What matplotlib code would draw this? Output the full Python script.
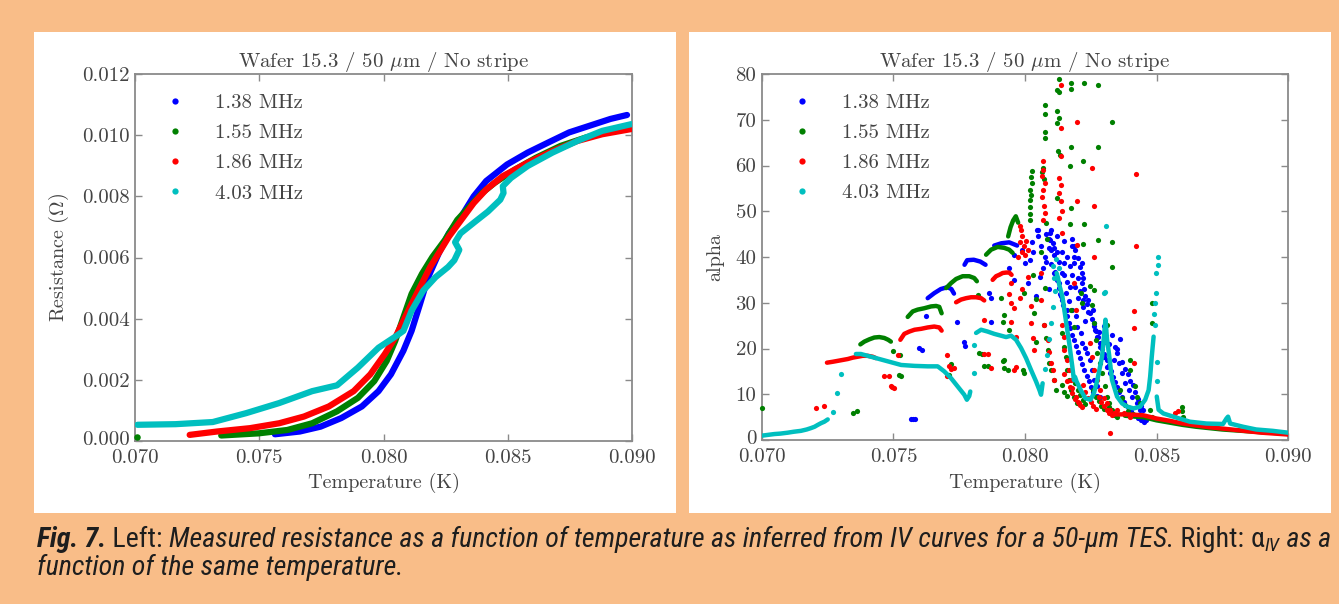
import matplotlib
matplotlib.use("Agg")
import matplotlib.pyplot as plt
from matplotlib.patches import Rectangle
from matplotlib.lines import Line2D
from matplotlib.transforms import IdentityTransform, ScaledTranslation
from matplotlib import font_manager as fm

# ---------------- data ----------------
labels = ["1.38 MHz", "1.55 MHz", "1.86 MHz", "4.03 MHz"]
colors = ["#0000ff", "#008000", "#ff0000", "#00bfbf"]
title = r"Wafer 15.3 / 50 $\mu$m / No stripe"

x_ticks = [0.070, 0.075, 0.080, 0.085, 0.090]
x_ticklabels = ["0.070", "0.075", "0.080", "0.085", "0.090"]
r_ticks = [0.000, 0.002, 0.004, 0.006, 0.008, 0.010, 0.012]
r_ticklabels = ["0.000", "0.002", "0.004", "0.006", "0.008", "0.010", "0.012"]
a_ticks = [0, 10, 20, 30, 40, 50, 60, 70, 80]
a_ticklabels = ["0", "10", "20", "30", "40", "50", "60", "70", "80"]

# Left panel: resistance (Ohm) vs temperature (K)
res_blue = [(.07563, .00022), (.07663, .00031), (.07747, .00047), (.0783, .00075), (.07913, .00113),
            (.0798, .00163), (.0803, .00218), (.0808, .00295), (.08113, .0036), (.08147, .00448),
            (.0818, .00536), (.08222, .00613), (.08263, .00679), (.08313, .00734), (.08363, .0080),
            (.08413, .0085), (.08497, .00904), (.0858, .00943), (.08663, .00976), (.08747, .01009),
            (.0883, .01031), (.08913, .01053), (.0898, .01066)]
res_green_iso = [(.0701, .00014)]
res_green = [(.07347, .00018), (.07497, .00025), (.07613, .00036), (.07713, .00058), (.07813, .00097),
             (.07897, .00141), (.07963, .00196), (.08013, .00262), (.08047, .00327), (.0808, .00404),
             (.08113, .00481), (.08155, .00547), (.08197, .00602), (.08247, .00657), (.08297, .00723),
             (.08347, .00767), (.08397, .00811), (.08447, .00844), (.0853, .00888), (.08613, .00926),
             (.08713, .00965), (.08813, .00992), (.08913, .01014), (.08997, .01025)]
res_red = [(.0722, .0002), (.0733, .00031), (.07463, .00042), (.0758, .00058), (.0768, .0008),
           (.0778, .00113), (.0788, .00163), (.07947, .00218), (.08005, .00284), (.08047, .00338),
           (.0808, .00393), (.08113, .00448), (.08147, .00503), (.08188, .00569), (.0823, .00624),
           (.08263, .00668), (.08313, .00723), (.08363, .00778), (.08413, .00822), (.0848, .00866),
           (.0858, .0091), (.0868, .00948), (.0878, .00981), (.0888, .01003), (.08997, .0102)]
res_cyan = [(.0701, .00053), (.07163, .00055), (.07313, .00062), (.07447, .00091), (.0758, .00124),
            (.07713, .00163), (.07813, .00182), (.07897, .0024), (.0798, .00305), (.08047, .00341),
            (.0808, .0036), (.08113, .00426), (.0816, .00492), (.0821, .00536), (.0826, .00569),
            (.08285, .00591), (.08305, .00625), (.08288, .0065), (.0831, .00679), (.0837, .00718),
            (.0842, .0075), (.0847, .00789), (.08483, .00811), (.0848, .00833), (.08513, .0086),
            (.0858, .00899), (.0868, .00943), (.0878, .00981), (.0888, .01014), (.08997, .01036)]

# Right panel: alpha vs temperature (K); arcs = dense runs, dots = isolated points
blue_arcs = [
    [(.0763, 31.0), (.07655, 32.1), (.0768, 33.0), (.07705, 33.4), (.0772, 33.0), (.0773, 32.0)],
    [(.0777, 38.3), (.0778, 39.3), (.07805, 39.4), (.0783, 39.0), (.0785, 38.3)],
    [(.07883, 42.5), (.0791, 43.0), (.0794, 43.2), (.0797, 42.5)],
]
blue_dots = [(.07567, 4.6), (.07575, 4.6), (.07582, 4.5), (.07598, 20.1), (.07607, 19.7), (.07624, 27.0),
             (.07742, 25.9), (.07767, 21.5), (.07773, 20.5), (.07864, 32.1), (.0787, 31.0), (.0787, 25.9),
             (.0800, 38.7), (.08013, 34.3), (.0802, 39.4), (.08026, 43.2), (.08044, 46.0), (.0805, 44.5),
             (.08058, 35.7), (.08051, 46.0), (.08077, 40.1), (.08096, 45.2), (.08096, 43.8), (.08099, 46.0),
             (.08092, 42.0), (.08105, 43.0), (.08111, 36.5), (.0812, 35.4), (.0813, 34.3), (.08136, 31.4),
             (.08147, 38.7), (.08155, 32.1), (.08161, 28.4), (.08168, 30.3), (.08178, 42.3), (.0818, 28.4),
             (.08186, 42.3), (.08186, 40.1), (.08186, 38.7), (.08193, 27.0), (.08199, 24.8), (.08212, 23.3),
             (.08218, 38.7), (.08218, 36.5), (.08218, 34.3), (.08218, 21.2), (.08228, 20.1), (.08237, 19.0),
             (.08249, 27.7), (.08249, 17.5), (.08256, 15.3), (.08262, 25.5), (.08262, 13.1), (.08268, 24.0),
             (.08275, 22.6), (.08275, 11.7), (.08287, 20.4), (.08287, 9.5), (.083, 18.2), (.08306, 21.5),
             (.08312, 16.0), (.08325, 14.6), (.08344, 20.4), (.0835, 19.0), (.08356, 16.8), (.08369, 14.6),
             (.08382, 12.4), (.08394, 10.9), (.08407, 9.5), (.08426, 8.0), (.08438, 6.6), (.08451, 5.1),
             (.08451, 4.0), (.0846, 4.3), (.0803, 41.0), (.0807, 37.5), (.0809, 33.0), (.0804, 31.5),
             (.0811, 40.5), (.0815, 36.0), (.0817, 33.5), (.0820, 31.0), (.0822, 29.0), (.0824, 30.5),
             (.0823, 26.0), (.0826, 28.5), (.0828, 23.5), (.0830, 25.0), (.0832, 21.0), (.0834, 17.5),
             (.0836, 22.0), (.0838, 15.5), (.0840, 13.0), (.0842, 10.5), (.0844, 7.5), (.0818, 44.0),
             (.0806, 42.5), (.0808, 39.0), (.0799, 41.5), (.0796, 40.5), (.0794, 37.5), (.0796, 35.0),
             # dense streaks
             (.08115, 36.8), (.08122, 35.0), (.08128, 33.2), (.08134, 32.0), (.0814, 30.6), (.08146, 29.5),
             (.08152, 28.2), (.0816, 27.0), (.08166, 25.6), (.08172, 24.4), (.0818, 23.0), (.08187, 21.8),
             (.08195, 20.5), (.08202, 19.2), (.0821, 18.0), (.08218, 16.6), (.08226, 15.3), (.08234, 14.0),
             (.08242, 12.8), (.0825, 11.6), (.0826, 10.4), (.08272, 9.6),
             (.08255, 26.5), (.08262, 25.0), (.0827, 23.8), (.08278, 22.5), (.08286, 21.2), (.08294, 20.0),
             (.08302, 18.8), (.0831, 17.5), (.08318, 16.3), (.08326, 15.0), (.08334, 13.8), (.08342, 12.6),
             (.0835, 11.5), (.08358, 10.4), (.08368, 9.3), (.08378, 8.2), (.0839, 7.2), (.08402, 6.3),
             (.08415, 5.5), (.08428, 4.8), (.0844, 4.3),
             (.0819, 41.5), (.0820, 39.8), (.0821, 37.8), (.0822, 35.5), (.08225, 33.0), (.0823, 31.5),
             (.08235, 29.8), (.0824, 28.0), (.0808, 45.0), (.0809, 44.0), (.0810, 41.5), (.0810, 38.5),
             (.0811, 42.0), (.0812, 44.5), (.0812, 41.0), (.0813, 39.0), (.0814, 41.0), (.0815, 43.5),
             (.0816, 40.0), (.0814, 36.5), (.0816, 34.5), (.0817, 38.0), (.0818, 36.0), (.0819, 33.5),
             (.0820, 35.5), (.0821, 32.5), (.0822, 30.5), (.0833, 23.0), (.0835, 20.0), (.0837, 17.0),
             (.0839, 14.5), (.0841, 12.0), (.0843, 9.0), (.0845, 6.5)]

green_arcs = [
    [(.07374, 20.9), (.07389, 21.5), (.07408, 22.0), (.07427, 22.4), (.07446, 22.5), (.07465, 22.3), (.0748, 21.9), (.0749, 21.5)],
    [(.07554, 26.9), (.07573, 28.1), (.07592, 28.5), (.07617, 28.8), (.07643, 29.2), (.07662, 29.3), (.07674, 29.1), (.07683, 27.7)],
    [(.0770, 33.2), (.07719, 34.3), (.07738, 35.2), (.07763, 35.8), (.07788, 35.8), (.07807, 35.4), (.07817, 34.7)],
    [(.07852, 40.5), (.07871, 41.6), (.07896, 42.2), (.07921, 42.0), (.0794, 41.6), (.07953, 40.9)],
    [(.07936, 44.5), (.07945, 46.5), (.07955, 48.0), (.07965, 48.9), (.07974, 47.5)],
    [(.0838, 5.3), (.0842, 5.1), (.0845, 5.0), (.0850, 4.3), (.0855, 3.8), (.0860, 3.3), (.0865, 2.9),
     (.0870, 2.6), (.0875, 2.3), (.0880, 2.1), (.0885, 1.9), (.0890, 1.7), (.0895, 1.55), (.0900, 1.4)],
]
green_dots = [(.0700, 7.1), (.07345, 6.0), (.07361, 6.4), (.0750, 19.4), (.07525, 18.6), (.07522, 14.2),
              (.07528, 13.9), (.07712, 14.2), (.07719, 16.6), (.0782, 31.8), (.07826, 19.0), (.07836, 18.8),
              (.07843, 16.1), (.07861, 16.2), (.07921, 27.4), (.0794, 24.1), (.07915, 17.2), (.07934, 15.3),
              (.07909, 31.0), (.07916, 25.9), (.07922, 17.5), (.07922, 15.7), (.07991, 15.3), (.07997, 14.6),
              (.07997, 32.1), (.08035, 27.7), (.08042, 21.5), (.08073, 25.2), (.0808, 22.2), (.08086, 19.7),
              (.08092, 16.8), (.08098, 15.3), (.08111, 13.1), (.08117, 10.9), (.08142, 23.3), (.08149, 20.4),
              (.08155, 18.2), (.08161, 15.3), (.08168, 13.1), (.08174, 10.9), (.08186, 9.5), (.08199, 8.0),
              (.08174, 28.4), (.08186, 24.8), (.08212, 32.1), (.08218, 29.9), (.08249, 33.6), (.08256, 29.5),
              (.08262, 25.5), (.08269, 21.9), (.08275, 19.0), (.08287, 16.8), (.08293, 14.6), (.08306, 11.7),
              (.08312, 9.5), (.08319, 8.0), (.08331, 6.6), (.0835, 5.1), (.08312, 25.2), (.08262, 32.8),
              (.084, 17.5), (.084, 15.3), (.08419, 11.7), (.08426, 9.5), (.08438, 8.0), (.08476, 6.6),
              (.08482, 5.1), (.08482, 29.9), (.08482, 25.5), (.08596, 7.3), (.08598, 6.3), (.08602, 5.1),
              (.08128, 78.9), (.08122, 76.6), (.08128, 76.0), (.08176, 78.0), (.08176, 76.7), (.08224, 78.0),
              (.08276, 77.7), (.08077, 73.3), (.08077, 71.3), (.08122, 72.0), (.08128, 70.4), (.08122, 69.3),
              (.08329, 69.4), (.08077, 67.3), (.08077, 66.0), (.08124, 63.1), (.08132, 62.4), (.08176, 64.0),
              (.08276, 64.0), (.0817, 60.0), (.08222, 60.9), (.0807, 59.4), (.08066, 58.5), (.08072, 57.0),
              (.08026, 58.7), (.08024, 57.4), (.08026, 56.2), (.0802, 54.7), (.08022, 53.5), (.0802, 52.5),
              (.0802, 51.0), (.08018, 49.5), (.0802, 48.0), (.08176, 50.7), (.0817, 47.2), (.08224, 47.2),
              (.08276, 43.8), (.08329, 43.2), (.08222, 42.9), (.08329, 37.9), (.0808, 47.4), (.08083, 44.0),
              (.0806, 41.0), (.0803, 36.0), (.0804, 30.9), (.08075, 33.2), (.0812, 52.9),
              (.0814, 12.0), (.0815, 10.5), (.0816, 9.6), (.0819, 12.5), (.0820, 11.0), (.0821, 9.8),
              (.0822, 8.7), (.0823, 7.8), (.0826, 11.0), (.0827, 9.5), (.0828, 8.5), (.0829, 7.5),
              (.0830, 6.8), (.0832, 7.2), (.0833, 6.0), (.0834, 5.4), (.0836, 11.0), (.0837, 9.2),
              (.0838, 7.6), (.0839, 6.4), (.0841, 5.6)]

red_arcs = [
    [(.07247, 16.9), (.07269, 17.1), (.07288, 17.3), (.07307, 17.5), (.07326, 17.7), (.07345, 18.0),
     (.07364, 18.2), (.07383, 18.4), (.07402, 18.4), (.07421, 18.2), (.07433, 17.9)],
    [(.07526, 21.9), (.07541, 23.2), (.0756, 23.7), (.0758, 24.1), (.07605, 24.3), (.0763, 24.6),
     (.07655, 24.8), (.07674, 24.6), (.07683, 23.9)],
    [(.07738, 30.1), (.07757, 30.7), (.07776, 31.0), (.07795, 31.2), (.07814, 31.2), (.07833, 31.0), (.07845, 30.5)],
    [(.07877, 35.0), (.0789, 35.8), (.07902, 36.1), (.07915, 36.5), (.07928, 36.6), (.0794, 36.6), (.07949, 36.1)],
    [(.0834, 5.6), (.0838, 5.6), (.0842, 5.5), (.0845, 5.4), (.0850, 4.7), (.0855, 4.2), (.0860, 3.6),
     (.0865, 3.2), (.0870, 2.8), (.0875, 2.5), (.0880, 2.2), (.0885, 1.9), (.0890, 1.6), (.0895, 1.4),
     (.0900, 1.2)],
]
red_dots = [(.07205, 6.9), (.07234, 7.5), (.07465, 13.9), (.07484, 13.9), (.0749, 11.7), (.07503, 11.3),
            (.07496, 11.5), (.07516, 18.6), (.07703, 18.6), (.07712, 16.1), (.07703, 13.9), (.07731, 15.7),
            (.0772, 15.5), (.07845, 26.3), (.07845, 18.8), (.0786, 18.8), (.0787, 15.7),
            (.07981, 46.7), (.07985, 45.9), (.0799, 44.5), (.0798, 43.2), (.07995, 42.3), (.0799, 41.2),
            (.08013, 41.6), (.07975, 40.1), (.08005, 43.5), (.0800, 40.5),
            (.07947, 34.3), (.0801, 35.7), (.0806, 36.5), (.07947, 29.9), (.0796, 28.8), (.08023, 29.2),
            (.0806, 30.6), (.08073, 25.2), (.07947, 25.9), (.07966, 22.6), (.08023, 25.5), (.08029, 22.2),
            (.08035, 19.7), (.07966, 16.0), (.0796, 15.3), (.08086, 21.9), (.08092, 19.3), (.08098, 16.8),
            (.08105, 15.3), (.08111, 13.1), (.08142, 25.2), (.08149, 22.6), (.08149, 19.7), (.08161, 17.5),
            (.08168, 15.3), (.08174, 13.1), (.0818, 11.3), (.08193, 9.5), (.08205, 8.0), (.08218, 7.3),
            (.08186, 34.3), (.08193, 28.4), (.08249, 21.2), (.08256, 18.2), (.08262, 15.3), (.08275, 13.1),
            (.08287, 10.9), (.083, 9.1), (.08312, 8.0), (.08325, 6.6), (.08338, 5.8), (.08306, 24.1),
            (.08325, 1.5), (.0835, 6.6), (.08375, 5.8), (.08401, 5.1), (.08413, 16.8), (.08413, 28.1),
            (.08413, 24.4), (.08137, 77.7), (.08135, 68.2), (.08199, 69.4), (.08137, 62.0), (.0807, 60.9),
            (.0807, 59.1), (.08064, 57.6), (.08077, 56.2), (.0807, 54.7), (.08064, 53.2), (.08074, 51.1),
            (.08077, 49.6), (.0807, 48.1), (.08128, 57.3), (.08135, 55.8), (.08128, 54.0), (.08135, 52.2),
            (.08256, 59.4), (.08423, 58.2), (.08196, 52.2), (.08263, 51.1), (.08141, 45.2), (.08199, 42.7),
            (.08423, 42.5), (.08263, 40.1), (.0814, 50.0), (.0813, 48.5), (.0799, 33.0), (.0798, 31.0),
            (.0794, 32.0), (.0858, 6.4), (.0857, 5.8),
            (.0815, 14.5), (.0816, 12.8), (.0817, 11.5), (.0818, 10.2), (.0819, 9.0), (.0820, 8.2),
            (.0821, 7.6), (.0822, 12.0), (.0823, 10.5), (.0824, 9.2), (.0825, 8.3), (.0826, 7.4),
            (.0827, 6.8), (.0828, 9.5), (.0829, 8.4), (.0830, 7.4), (.0831, 6.5), (.0832, 5.9),
            (.0833, 5.4)]

cyan_lines = [
    [(.0700, 0.95), (.0702, 1.1), (.07047, 1.3), (.0707, 1.4), (.07098, 1.6), (.0712, 1.8), (.07148, 2.0),
     (.0717, 2.3), (.07186, 2.6), (.072, 2.9), (.07212, 3.3), (.07225, 3.7), (.07237, 4.0), (.0725, 4.5)],
    [(.07357, 18.8), (.07376, 18.8), (.07427, 18.0), (.07478, 17.2), (.07529, 16.4), (.0758, 16.2),
     (.0763, 16.1), (.07668, 16.1), (.07693, 15.0), (.07719, 13.5), (.07744, 11.7), (.07769, 9.9),
     (.07779, 8.8), (.07788, 9.6), (.07792, 10.6)],
    [(.07814, 23.4), (.07833, 24.1), (.07858, 23.7), (.07883, 23.2), (.07909, 22.8), (.07928, 22.5),
     (.07947, 22.8), (.07966, 21.9), (.07985, 20.1), (.08004, 17.9), (.08023, 15.3), (.08042, 12.8),
     (.08055, 10.9), (.08061, 9.9), (.08067, 12.4)],
    [(.0812, 36.5), (.08125, 35.5), (.0813, 34.0), (.08142, 31.4), (.08155, 26.3),
     (.08168, 21.2), (.0818, 16.0), (.08186, 13.1), (.0819, 13.8), (.08196, 12.8), (.08212, 10.9),
     (.0823, 9.1), (.08249, 8.8), (.08262, 10.2), (.08275, 13.1), (.08293, 18.2), (.083, 22.6),
     (.08306, 26.3), (.08312, 22.0), (.08319, 19.0), (.08331, 13.1), (.0835, 9.5), (.08369, 8.0),
     (.08388, 7.3), (.08413, 6.9), (.08438, 7.3), (.08457, 8.8), (.0847, 10.9), (.08476, 13.9),
     (.08482, 18.2), (.08489, 22.6)],
    [(.08501, 9.5), (.08508, 6.6), (.08526, 5.8), (.08564, 5.1), (.08627, 4.0), (.0869, 3.6), (.08753, 3.5),
     (.08766, 4.7), (.08772, 5.1), (.0878, 3.6), (.08829, 2.9), (.08879, 2.3), (.08942, 2.0), (.0900, 1.6)],
]
cyan_dots = [(.07269, 6.2), (.07285, 10.2), (.073, 14.5), (.07805, 14.6), (.07807, 20.8), (.08308, 46.7),
             (.08506, 40.1), (.08506, 38.3), (.083, 32.1), (.08304, 32.4), (.08495, 25.2), (.0811, 35.5),
             (.08105, 38.0), (.0813, 37.5), (.08075, 15.5), (.08082, 18.5), (.0809, 22.0), (.08098, 25.5),
             (.08106, 29.0), (.08114, 32.5), (.08118, 39.5), (.08492, 27.5), (.08495, 30.0), (.08498, 32.1),
             (.085, 17.0), (.085, 13.0), (.08497, 36.5)]

caption_line1 = [("Fig. 7.", "italic", "bold"), (" Left: ", "normal", "normal"),
                 ("Measured resistance as a function of temperature as inferred from IV curves for a 50-\u00b5m TES.", "italic", "normal"),
                 (" Right: ", "normal", "normal"), ("\u03b1", "normal", "normal"), ("IV", "italic", "normal"),
                 (" as a", "italic", "normal")]
caption_line2 = "function of the same temperature."

# ---------------- style ----------------
BG = "#f9bd88"
TXT = "#444444"
SPINE = "#8a8a8a"
plt.rcParams["mathtext.fontset"] = "cm"
plt.rcParams["font.family"] = "cmr10"
plt.rcParams["axes.formatter.use_mathtext"] = True

# pick a condensed sans for the caption if one is installed
CAP_STRETCH = "normal"
CAPF = ["Liberation Sans", "DejaVu Sans"]
for fam, stretch in [("Liberation Sans Narrow", "normal"), ("Roboto Condensed", "normal"),
                     ("Open Sans Condensed", "normal"), ("DejaVu Sans", "condensed")]:
    try:
        p = fm.findfont(fm.FontProperties(family=fam, stretch=stretch), fallback_to_default=False)
        if stretch == "condensed" and "Condensed" not in p:
            continue
        CAPF = [fam, "DejaVu Sans"]
        CAP_STRETCH = stretch
        break
    except Exception:
        pass

W, H = 1339, 604
fig = plt.figure(figsize=(W / 100, H / 100), dpi=100, facecolor=BG)

def fx(px):
    return px / W

def fy(py):
    return 1 - py / H

# white panels
for (x0, x1) in [(34, 676), (689, 1331)]:
    fig.patches.append(Rectangle((fx(x0), fy(513)), fx(x1 - x0), (513 - 32) / H,
                                 transform=fig.transFigure, facecolor="white", edgecolor="none", zorder=-5))

axL = fig.add_axes([fx(135), fy(441), fx(632 - 135), (441 - 74) / H])
axR = fig.add_axes([fx(762), fy(440), fx(1288 - 762), (440 - 74) / H])

def style_axes(ax, yticks, yticklabels):
    ax.set_xlim(0.070, 0.090)
    ax.set_xticks(x_ticks)
    ax.set_xticklabels(x_ticklabels)
    ax.set_yticks(yticks)
    ax.set_yticklabels(yticklabels)
    ax.set_ylim(yticks[0], yticks[-1])
    ax.set_facecolor("white")
    for s in ax.spines.values():
        s.set_color(SPINE)
        s.set_linewidth(1.3)
    ax.tick_params(direction="in", length=5, width=1, color=SPINE, top=True, right=True,
                   labelsize=15, labelcolor=TXT)
    ax.tick_params(axis="x", pad=6)
    ax.tick_params(axis="y", pad=4)
    ax.set_title(title, fontsize=15, color=TXT, pad=5)
    ax.set_xlabel("Temperature (K)", fontsize=14.5, color=TXT)

style_axes(axL, r_ticks, r_ticklabels)
style_axes(axR, a_ticks, a_ticklabels)
axL.set_ylabel(r"Resistance ($\Omega$)", fontsize=14.5, color=TXT)
axR.set_ylabel("alpha", fontsize=14.5, color=TXT)
axL.xaxis.set_label_coords(0.5, -0.087)
axR.xaxis.set_label_coords(0.5, -0.09)
axL.yaxis.set_label_coords(-0.129, 0.5)
axR.yaxis.set_label_coords(-0.071, 0.5)

# nudge the lowest y tick labels up a little so they clear the x tick labels
for ax in (axL, axR):
    lab = ax.get_yticklabels()[0]
    lab.set_transform(lab.get_transform() + ScaledTranslation(0, 3 / 100, fig.dpi_scale_trans))

# left panel curves
LW = 4.5
for pts, c in [(res_blue, colors[0]), (res_green, colors[1]), (res_red, colors[2]), (res_cyan, colors[3])]:
    axL.plot([p[0] for p in pts], [p[1] for p in pts], color=c, lw=LW, solid_capstyle="round",
             solid_joinstyle="round", zorder=3)
axL.scatter([p[0] for p in res_green_iso], [p[1] for p in res_green_iso], s=22, color=colors[1],
            linewidths=0, zorder=3, clip_on=False)

# right panel
DOT_S = 14
ARC_LW = 3.2
series = [(blue_arcs, blue_dots, colors[0]), (green_arcs, green_dots, colors[1]),
          (red_arcs, red_dots, colors[2]), (cyan_lines, cyan_dots, colors[3])]
for arcs, dots, c in series:
    for arc in arcs:
        axR.plot([p[0] for p in arc], [p[1] for p in arc], color=c, lw=ARC_LW,
                 solid_capstyle="round", solid_joinstyle="round", zorder=3)
    axR.scatter([p[0] for p in dots], [p[1] for p in dots], s=DOT_S, color=c, linewidths=0,
                zorder=3, clip_on=False)

# legends
handles = [Line2D([], [], ls="", marker="o", ms=4.5, mec="none", mfc=c) for c in colors]
for ax, xa in [(axL, 0.0596), (axR, 0.0563)]:
    ax.legend(handles, labels, loc="upper left", bbox_to_anchor=(xa, 0.946), frameon=False,
              fontsize=15, borderpad=0, borderaxespad=0, handlelength=1.0, handletextpad=1.4,
              labelspacing=0.55, labelcolor=TXT)

# caption
CAPC = "#1e1e1e"
renderer = fig.canvas.get_renderer()

def measure(pieces, size):
    total = 0
    objs = []
    for s, st, wt in pieces:
        sc = 0.68 if s == "IV" else 1.0
        t = fig.text(0, 0, s, fontsize=size * sc, style=st, weight=wt, family=CAPF,
                     stretch=CAP_STRETCH, transform=IdentityTransform())
        objs.append(t)
        total += t.get_window_extent(renderer).width
    for t in objs:
        t.remove()
    return total

target = 1330 - 37
base = 18.0
wid = measure(caption_line1, base)
size = min(base * target / wid, 21.0)

x = 37
y1 = H - 547
for s, st, wt in caption_line1:
    sc, dy = (0.68, -4) if s == "IV" else (1.0, 0)
    t = fig.text(x, y1 + dy, s, fontsize=size * sc, style=st, weight=wt, family=CAPF,
                 stretch=CAP_STRETCH, color=CAPC, transform=IdentityTransform(),
                 va="baseline", ha="left")
    x += t.get_window_extent(renderer).width
fig.text(37, H - 575, caption_line2, fontsize=size, style="italic", family=CAPF,
         stretch=CAP_STRETCH, color=CAPC, transform=IdentityTransform(), va="baseline", ha="left")

fig.savefig("out.png", dpi=100, facecolor=BG)
